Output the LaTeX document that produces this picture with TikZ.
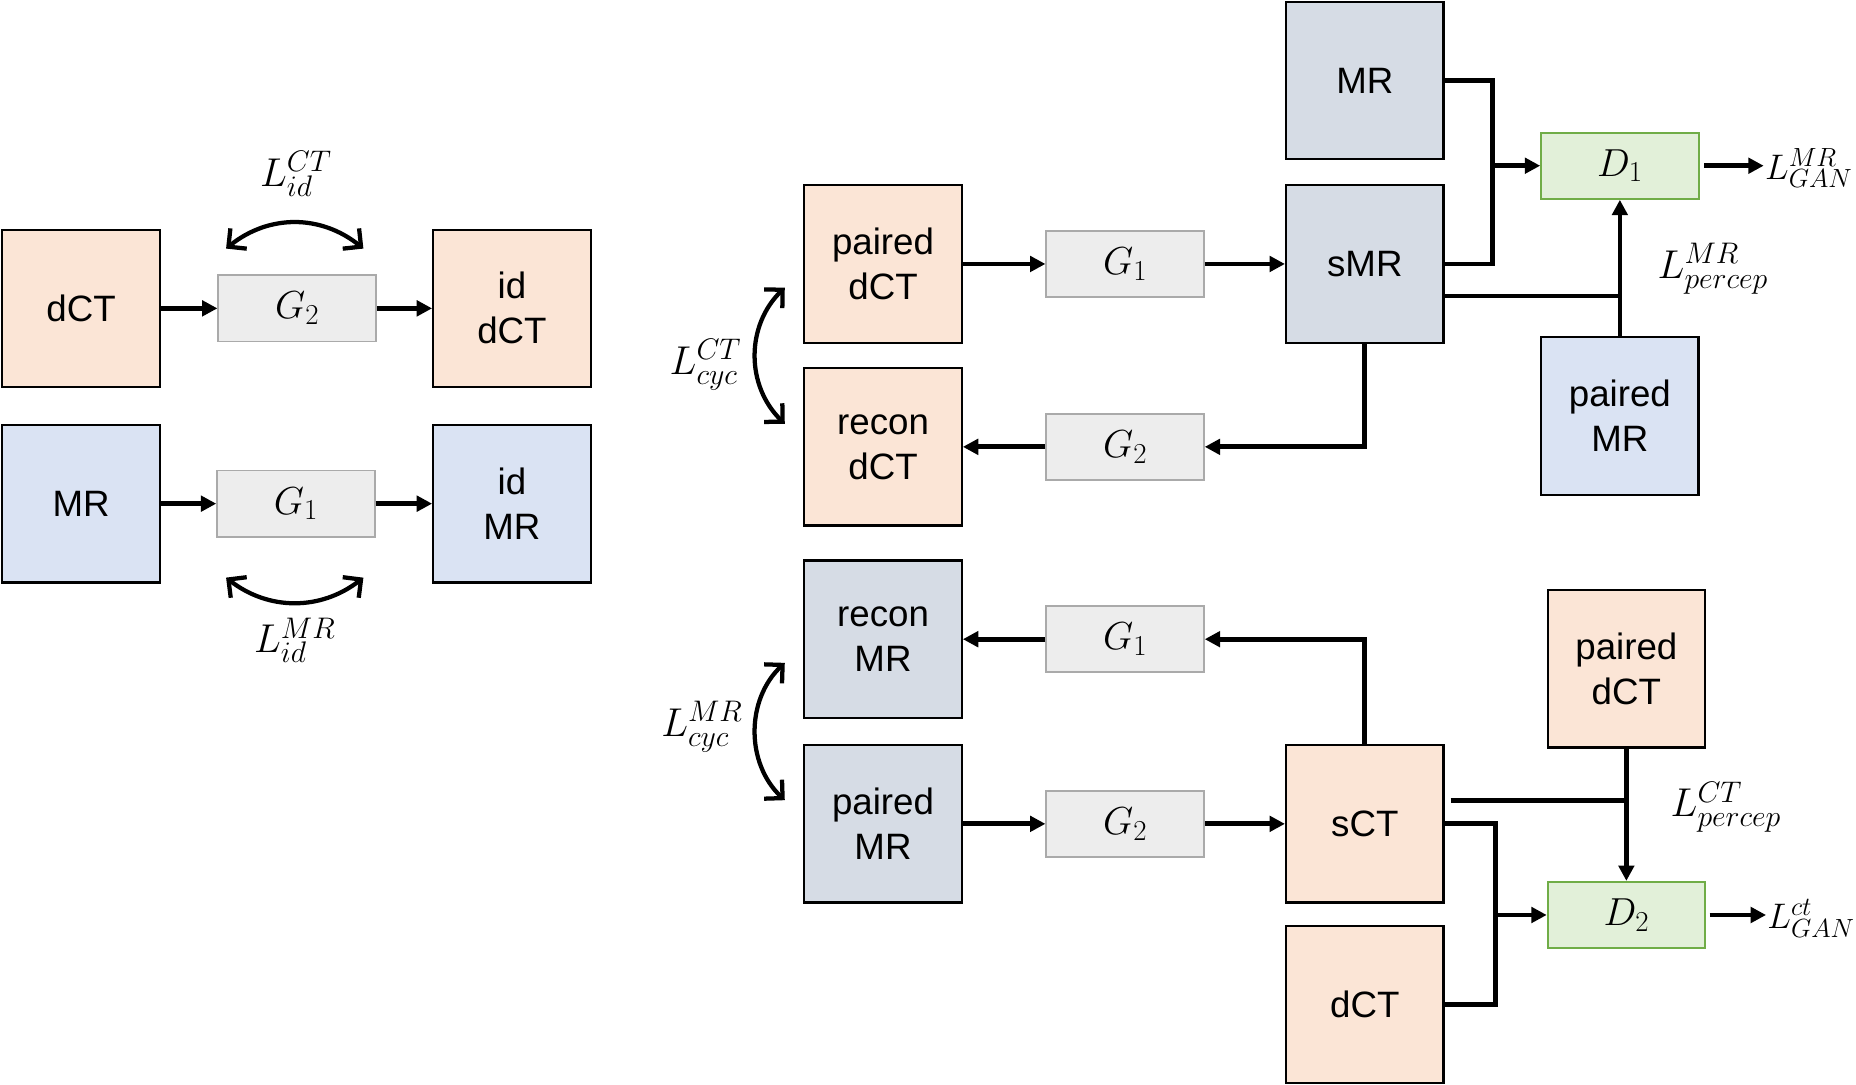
\RequirePackage{fix-cm}
\documentclass[tikz,border=0pt]{standalone}
\usepackage[no-math]{fontspec}
\setmainfont{Liberation Sans}
\usetikzlibrary{arrows.meta}
\renewcommand\defaultscriptratio{.74}
\newcommand\boxfont{\fontsize{31}{38}\selectfont}
\newcommand\genfont{\fontsize{33}{38}\selectfont}
\newcommand\labfont{\fontsize{34}{40}\selectfont}
\newcommand\ganfont{\fontsize{30}{36}\selectfont}
\definecolor{ctfill}{RGB}{251,229,214}
\definecolor{mrfill}{RGB}{218,227,243}
\definecolor{bgfill}{RGB}{214,220,229}
\definecolor{genfill}{RGB}{237,237,237}
\definecolor{gendraw}{RGB}{170,170,170}
\definecolor{disfill}{RGB}{226,240,217}
\definecolor{disdraw}{RGB}{112,173,71}
\tikzset{
  imgbox/.style={draw=black, line width=1.9pt, minimum width=133pt, minimum height=133pt, inner sep=0pt, align=center, font=\boxfont},
  ctbox/.style={imgbox, fill=ctfill},
  mrbox/.style={imgbox, fill=mrfill},
  bgbox/.style={imgbox, fill=bgfill},
  genbox/.style={draw=gendraw, fill=genfill, line width=1.6pt, minimum width=133pt, minimum height=56pt, inner sep=0pt, font=\genfont},
  disbox/.style={draw=disdraw, fill=disfill, line width=1.6pt, minimum width=133pt, minimum height=56pt, inner sep=0pt, font=\genfont},
  lab/.style={inner sep=2pt, font=\labfont},
  ganlab/.style={inner sep=1pt, font=\ganfont, anchor=west},
  arr/.style={line width=4pt, -{Triangle[length=13pt,width=13pt]}},
  ln/.style={line width=4pt},
  dbl/.style={line width=3.6pt, {Straight Barb[length=11pt,width=22pt]}-{Straight Barb[length=11pt,width=22pt]}}
}
\begin{document}
\begin{tikzpicture}[x=1pt,y=-1pt]
\useasboundingbox (0,0) rectangle (1568,916);
% ---------- left part ----------
\node[ctbox] (dCTa) at (68.5,260.5) {dCT};
\node[genbox] (G2a) at (251,260.5) {$G_2$};
\node[ctbox] (iddct) at (432.5,260.5) {id\\dCT};
\node[mrbox] (MRa) at (68.5,425.5) {MR};
\node[genbox] (G1a) at (250,425.5) {$G_1$};
\node[mrbox] (idmr) at (432.5,425.5) {id\\MR};
\draw[arr] (dCTa) -- (G2a);
\draw[arr] (G2a) -- (iddct);
\draw[arr] (MRa) -- (G1a);
\draw[arr] (G1a) -- (idmr);
\coordinate (a1) at (191,210);
\coordinate (a2) at (307,210);
\draw[dbl] (a1) .. controls (227,181) and (271,181) .. (a2);
\node[lab] (lidct) at (250,147) {$L^{CT}_{id}$};
\coordinate (b1) at (191,488);
\coordinate (b2) at (307,488);
\draw[dbl] (b1) .. controls (227,516) and (271,516) .. (b2);
\node[lab] (lidmr) at (249,541) {$L^{MR}_{id}$};
% ---------- right top ----------
\node[ctbox] (pdct) at (746,223) {paired\\dCT};
\node[ctbox] (rdct) at (746,377.5) {recon\\dCT};
\node[genbox] (G1b) at (950.5,223) {$G_1$};
\node[genbox] (G2b) at (950.5,377.5) {$G_2$};
\node[bgbox] (MRt) at (1153,68) {MR};
\node[bgbox] (smr) at (1153,223) {sMR};
\node[disbox] (D1) at (1368.5,140) {$D_1$};
\node[mrbox] (pmr) at (1368.5,351.5) {paired\\MR};
\draw[arr] (pdct) -- (G1b);
\draw[arr] (G1b) -- (smr);
\draw[arr] (smr.south) |- (G2b.east);
\draw[arr] (G2b) -- (rdct);
\coordinate (j1) at (1261,140);
\draw[ln] (MRt.east) -| (j1) |- (smr.east);
\draw[arr] (j1) -- (D1);
\coordinate (j2) at (1368.5,250);
\draw[ln] (smr.east |- j2) -- (j2);
\draw[arr] (pmr) -- (D1);
\node[ganlab] (lgan1) at (1490,142) {$L^{MR}_{GAN}$};
\draw[arr] ([xshift=4pt]D1.east) -- (D1.east -| lgan1.west);
\node[lab] (lper1) at (1447,227) {$L^{MR}_{percep}$};
\coordinate (c1) at (663,243);
\coordinate (c2) at (663,358);
\draw[dbl] (c1) .. controls (630,275) and (630,326) .. (c2);
\node[lab] (lcycct) at (596,308) {$L^{CT}_{cyc}$};
% ---------- right bottom ----------
\node[bgbox] (rmr) at (746,540) {recon\\MR};
\node[bgbox] (pmr2) at (746,696) {paired\\MR};
\node[genbox] (G1c) at (950.5,540) {$G_1$};
\node[genbox] (G2c) at (950.5,696) {$G_2$};
\node[ctbox] (sct) at (1153,696) {sCT};
\node[ctbox] (dct2) at (1153,848.5) {dCT};
\node[ctbox] (pdct2) at (1374,565) {paired\\dCT};
\node[disbox] (D2) at (1374,773) {$D_2$};
\draw[arr] (sct.north) |- (G1c.east);
\draw[arr] (G1c) -- (rmr);
\draw[arr] (pmr2) -- (G2c);
\draw[arr] (G2c) -- (sct);
\coordinate (j3) at (1374,676.5);
\draw[ln] ([xshift=5pt]sct.east |- j3) -- (j3);
\draw[arr] (pdct2) -- (D2);
\coordinate (j4) at (1263.5,773);
\draw[ln] (sct.east) -| (j4) |- (dct2.east);
\draw[arr] (j4) -- (D2);
\node[ganlab] (lgan2) at (1492,776) {$L^{ct}_{GAN}$};
\draw[arr] ([xshift=3pt]D2.east) -- (D2.east -| lgan2.west);
\node[lab] (lper2) at (1458,682) {$L^{CT}_{percep}$};
\coordinate (d1) at (663,560);
\coordinate (d2) at (663,676);
\draw[dbl] (d1) .. controls (630,591) and (630,645) .. (d2);
\node[lab] (lcycmr) at (593,614) {$L^{MR}_{cyc}$};
\end{tikzpicture}
\end{document}
